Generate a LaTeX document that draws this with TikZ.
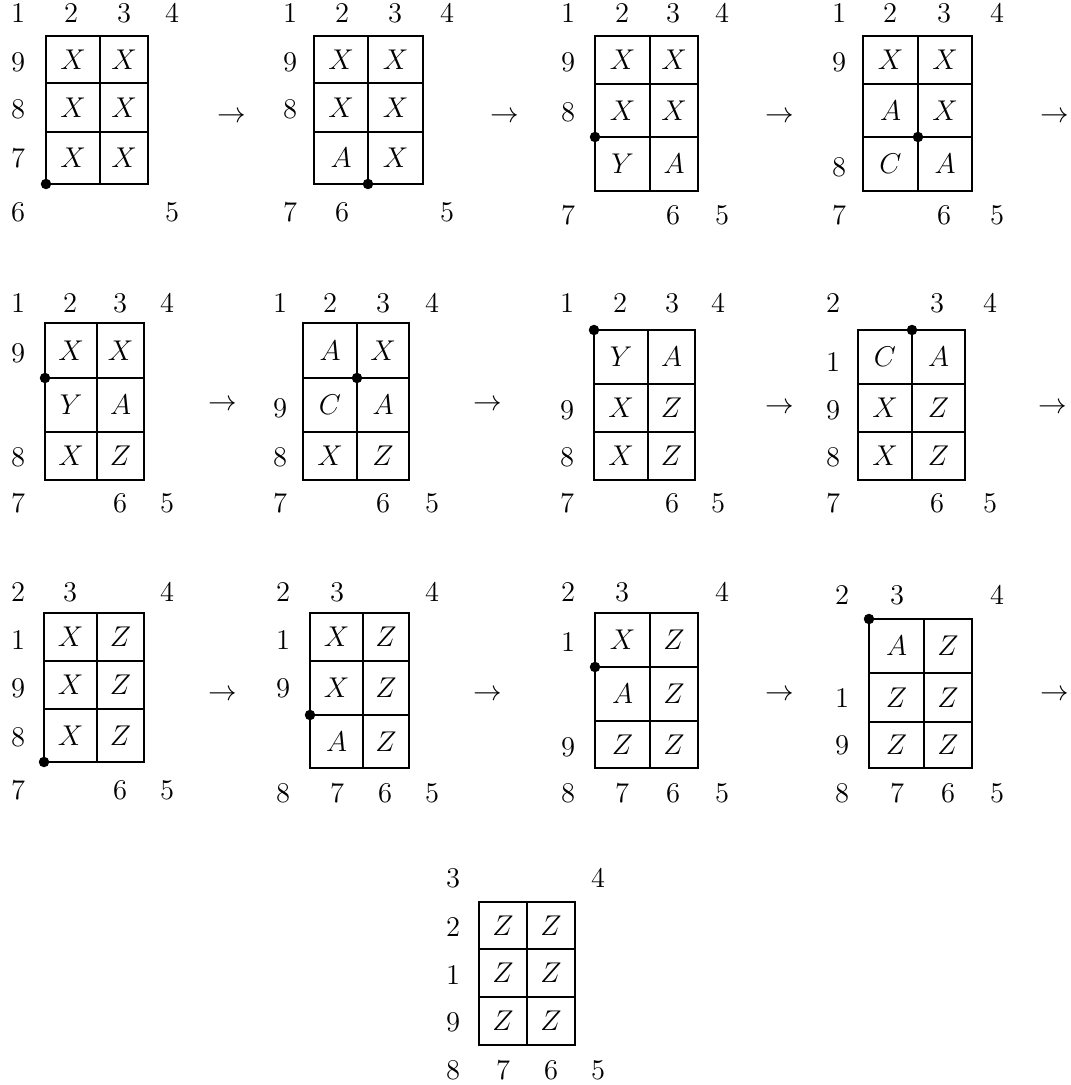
\documentclass[tikz,border=0pt,12pt]{standalone}
\usepackage{amssymb}
\usepackage{amsmath}
\usepackage{tikz}

% rotulos dos vertices em volta de cada quadro
\newcommand{\rotulos}[2]{%
  \foreach \n/\x/\y in {#2} \node[rotulo] (#1-\n) at (\x,\y) {$\n$};}

% grade 3x2: nome, x esq, x meio, x dir, y topo, y linha 1, y linha 2, y base
\newcommand{\quadro}[9][fina]{%
  \def\qxl{#3}\def\qxm{#4}\def\qxr{#5}%
  \def\qyt{#6}\def\qya{#7}\def\qyb{#8}\def\qyf{#9}%
  \draw[linha] (#3,#6) rectangle (#5,#9);
  \draw[linha] (#3,#7) -- (#5,#7);
  \draw[linha] (#3,#8) -- (#5,#8);
  \draw[#1] (#4,#6) -- (#4,#9);}

% letras das celulas, linha por linha
\newcommand{\celulas}[7]{%
  \node[celula] (#1-a1) at ({(\qxl+\qxm)/2},{(\qyt+\qya)/2}) {$#2$};
  \node[celula] (#1-a2) at ({(\qxm+\qxr)/2},{(\qyt+\qya)/2}) {$#3$};
  \node[celula] (#1-b1) at ({(\qxl+\qxm)/2},{(\qya+\qyb)/2}) {$#4$};
  \node[celula] (#1-b2) at ({(\qxm+\qxr)/2},{(\qya+\qyb)/2}) {$#5$};
  \node[celula] (#1-c1) at ({(\qxl+\qxm)/2},{(\qyb+\qyf)/2}) {$#6$};
  \node[celula] (#1-c2) at ({(\qxm+\qxr)/2},{(\qyb+\qyf)/2}) {$#7$};}

\begin{document}
\begin{tikzpicture}[x=0.42pt, y=-0.42pt,
    linha/.style={line width=1.1pt},
    fina/.style={line width=0.8pt},
    grossa/.style={line width=1.25pt},
    rotulo/.style={inner sep=0pt},
    celula/.style={inner sep=0pt},
    ponto/.style={circle, fill, inner sep=0pt, minimum size=4.4pt},
    seta/.style={inner sep=0pt}]

        \useasboundingbox (0,0) rectangle (1071,1085);

        % primeira linha
        \quadro{p1}{46}{100}{148}{36}{83}{132}{184}
        \celulas{p1}{X}{X}{X}{X}{X}{X}
        \rotulos{p1}{1/18/13, 2/71/13, 3/124/13, 4/172/13, 9/18/62, 8/18/109, 7/18/158, 6/18/212, 5/172/212}
        \node[ponto] (p1-p) at (46,184) {};
        \node[seta] (p1-s) at (232,117) {$\to$};

        \quadro[grossa]{p2}{314}{368}{423}{36}{83}{132}{184}
        \celulas{p2}{X}{X}{X}{X}{A}{X}
        \rotulos{p2}{1/290/13, 2/342/13, 3/395/13, 4/447/13, 9/290/62, 8/290/109, 7/290/212, 6/342/212, 5/447/212}
        \node[ponto] (p2-p) at (368,184) {};
        \node[seta] (p2-s) at (505,117) {$\to$};

        \quadro{p3}{595}{650}{698}{36}{84}{137}{191}
        \celulas{p3}{X}{X}{X}{X}{Y}{A}
        \rotulos{p3}{1/568/13, 2/622/13, 3/673/13, 4/722/13, 9/568/62, 8/568/112, 7/568/215, 6/673/215, 5/722/215}
        \node[ponto] (p3-p) at (595,137) {};
        \node[seta] (p3-s) at (780,117) {$\to$};

        \quadro{p4}{863}{918}{972}{36}{84}{137}{191}
        \celulas{p4}{X}{X}{A}{X}{C}{A}
        \rotulos{p4}{1/839/13, 2/890/13, 3/944/13, 4/997/13, 9/839/62, 8/839/167, 7/839/215, 6/944/215, 5/997/215}
        \node[ponto] (p4-p) at (918,137) {};
        \node[seta] (p4-s) at (1055,117) {$\to$};

        % segunda linha
        \quadro[grossa]{p5}{45}{97}{144}{323}{378}{432}{480}
        \celulas{p5}{X}{X}{Y}{A}{X}{Z}
        \rotulos{p5}{1/18/303, 2/70/303, 3/120/303, 4/167/303, 9/18/353, 8/18/457, 7/18/503, 6/120/503, 5/167/503}
        \node[ponto] (p5-p) at (45,378) {};
        \node[seta] (p5-s) at (223,405) {$\to$};

        \quadro[grossa]{p6}{303}{357}{409}{323}{378}{432}{480}
        \celulas{p6}{A}{X}{C}{A}{X}{Z}
        \rotulos{p6}{1/280/303, 2/330/303, 3/383/303, 4/432/303, 9/280/408, 8/280/457, 7/280/503, 6/383/503, 5/432/503}
        \node[ponto] (p6-p) at (357,378) {};
        \node[seta] (p6-s) at (488,405) {$\to$};

        \quadro{p7}{594}{648}{695}{330}{384}{432}{480}
        \celulas{p7}{Y}{A}{X}{Z}{X}{Z}
        \rotulos{p7}{1/567/303, 2/620/303, 3/672/303, 4/718/303, 9/567/410, 8/567/457, 7/567/503, 6/672/503, 5/718/503}
        \node[ponto] (p7-p) at (594,330) {};
        \node[seta] (p7-s) at (780,408) {$\to$};

        \quadro{p8}{858}{912}{965}{330}{384}{432}{480}
        \celulas{p8}{C}{A}{X}{Z}{X}{Z}
        \rotulos{p8}{2/833/303, 3/937/303, 4/990/303, 1/833/362, 9/833/410, 8/833/457, 7/833/503, 6/937/503, 5/990/503}
        \node[ponto] (p8-p) at (912,330) {};
        \node[seta] (p8-s) at (1053,408) {$\to$};

        % terceira linha
        \quadro[grossa]{p9}{44}{97}{144}{613}{661}{709}{762}
        \celulas{p9}{X}{Z}{X}{Z}{X}{Z}
        \rotulos{p9}{2/18/592, 3/70/592, 4/167/592, 1/18/640, 9/18/688, 8/18/737, 7/18/790, 6/120/790, 5/167/790}
        \node[ponto] (p9-p) at (44,762) {};
        \node[seta] (p9-s) at (223,695) {$\to$};

        \quadro{p10}{310}{363}{409}{613}{661}{715}{768}
        \celulas{p10}{X}{Z}{X}{Z}{A}{Z}
        \rotulos{p10}{2/283/592, 3/337/592, 4/432/592, 1/283/640, 9/283/688, 8/283/793, 7/337/793, 6/385/793, 5/432/793}
        \node[ponto] (p10-p) at (310,715) {};
        \node[seta] (p10-s) at (488,695) {$\to$};

        \quadro{p11}{595}{650}{698}{613}{667}{721}{768}
        \celulas{p11}{X}{Z}{A}{Z}{Z}{Z}
        \rotulos{p11}{2/568/592, 3/622/592, 4/722/592, 1/568/642, 9/568/747, 8/568/793, 7/622/793, 6/673/793, 5/722/793}
        \node[ponto] (p11-p) at (595,667) {};
        \node[seta] (p11-s) at (780,695) {$\to$};

        \quadro[grossa]{p12}{869}{924}{972}{619}{673}{722}{768}
        \celulas{p12}{A}{Z}{Z}{Z}{Z}{Z}
        \rotulos{p12}{2/842/595, 3/897/595, 4/997/595, 1/842/698, 9/842/745, 8/842/793, 7/897/793, 6/948/793, 5/997/793}
        \node[ponto] (p12-p) at (869,619) {};
        \node[seta] (p12-s) at (1055,695) {$\to$};

        % quadro final
        \quadro{p13}{479}{527}{575}{902}{949}{997}{1045}
        \celulas{p13}{Z}{Z}{Z}{Z}{Z}{Z}
        \rotulos{p13}{3/453/878, 4/598/878, 2/453/927, 1/453/975, 9/453/1022, 8/453/1070, 7/503/1070, 6/551/1070, 5/598/1070}

\end{tikzpicture}
\end{document}
